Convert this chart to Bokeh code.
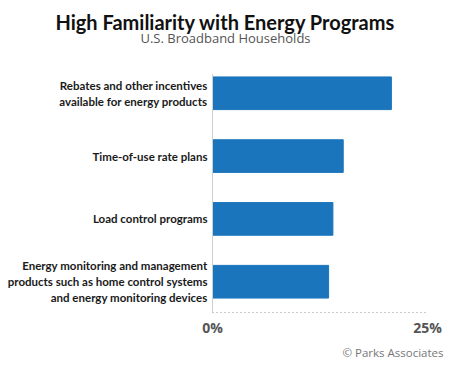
from bokeh.plotting import figure
from bokeh.models import Range1d, FixedTicker, Title
from bokeh.core.properties import value
from bokeh.embed import file_html
from bokeh.resources import INLINE

title_text = "High Familiarity with Energy Programs"
subtitle_text = "U.S. Broadband Households"
source_text = "\u00a9 Parks Associates"
categories = [
    "Rebates and other incentives\navailable for energy products",
    "Time-of-use rate plans",
    "Load control programs",
    "Energy monitoring and management\nproducts such as home control systems\nand energy monitoring devices",
]
values = [20.8, 15.2, 14.0, 13.5]
x_ticks = [0, 25]
x_tick_labels = {0: "0%", 25: "25%"}

positions = list(range(len(categories) - 1, -1, -1))

# layout constants (pixels)
W, H = 446, 362
left_px = 212            # pixel position of 0%
px_per_unit = 8.6        # pixels per percentage point
title_center_px = 225
plot_top_px = 74         # top of the bar area
bar_area_px = 241        # height of the bar area
axis_y_min, axis_y_max = -0.49, 3.31
px_per_y = bar_area_px / (axis_y_max - axis_y_min)

x_min = -left_px / px_per_unit
x_max = (W - left_px) / px_per_unit
y_top = axis_y_max + plot_top_px / px_per_y
title_x = (title_center_px - left_px) / px_per_unit

p = figure(width=W, height=H, output_backend="svg", toolbar_location=None,
           x_range=Range1d(x_min, x_max), y_range=Range1d(axis_y_min, y_top),
           min_border_left=0, min_border_right=0,
           min_border_top=0, min_border_bottom=H - plot_top_px - bar_area_px)
p.outline_line_color = None
p.grid.visible = False
p.yaxis.visible = False
p.background_fill_color = "white"

p.hbar(y=positions, right=values, left=0, height=0.52, color="#1a75bc")

# vertical base line at 0%
p.segment(x0=[0], x1=[0], y0=[axis_y_min], y1=[axis_y_max],
          line_color="#cfcfcf", line_width=1)

# category labels
p.text(x=0, y=positions, text=categories, x_offset=-5,
       text_align="right", text_baseline="middle",
       text_font=value("Lato"), text_font_style="bold", text_font_size="11.5px",
       text_color="#1a1a1a", text_line_height=1.25)

# title and subtitle
p.text(x=[title_x], y=[y_top], text=[title_text], y_offset=21,
       text_align="center", text_baseline="alphabetic",
       text_font=value("Lato"), text_font_style="bold", text_font_size="20px",
       text_color="#111111")
p.text(x=[title_x], y=[y_top], text=[subtitle_text], y_offset=37.5,
       text_align="center", text_baseline="alphabetic",
       text_font=value("Open Sans"), text_font_style="normal", text_font_size="13px",
       text_color="#555555")

# x axis
xa = p.xaxis[0]
xa.bounds = (x_ticks[0], x_ticks[-1])
xa.ticker = FixedTicker(ticks=x_ticks)
xa.major_label_overrides = x_tick_labels
xa.major_tick_line_color = None
xa.major_tick_out = 0
xa.major_tick_in = 0
xa.minor_tick_line_color = None
xa.minor_tick_out = 0
xa.minor_tick_in = 0
xa.axis_line_color = "#999999"
xa.axis_line_dash = "1 3"
xa.major_label_standoff = 5
xa.major_label_text_font = "Open Sans"
xa.major_label_text_font_style = "bold"
xa.major_label_text_font_size = "14px"
xa.major_label_text_color = "#555555"

p.add_layout(Title(text=source_text, align="right", offset=3, text_font="Open Sans",
                   text_font_style="normal", text_font_size="11.5px",
                   text_color="#777777", standoff=6), "below")

open("out.html", "w").write(file_html(p, INLINE))
